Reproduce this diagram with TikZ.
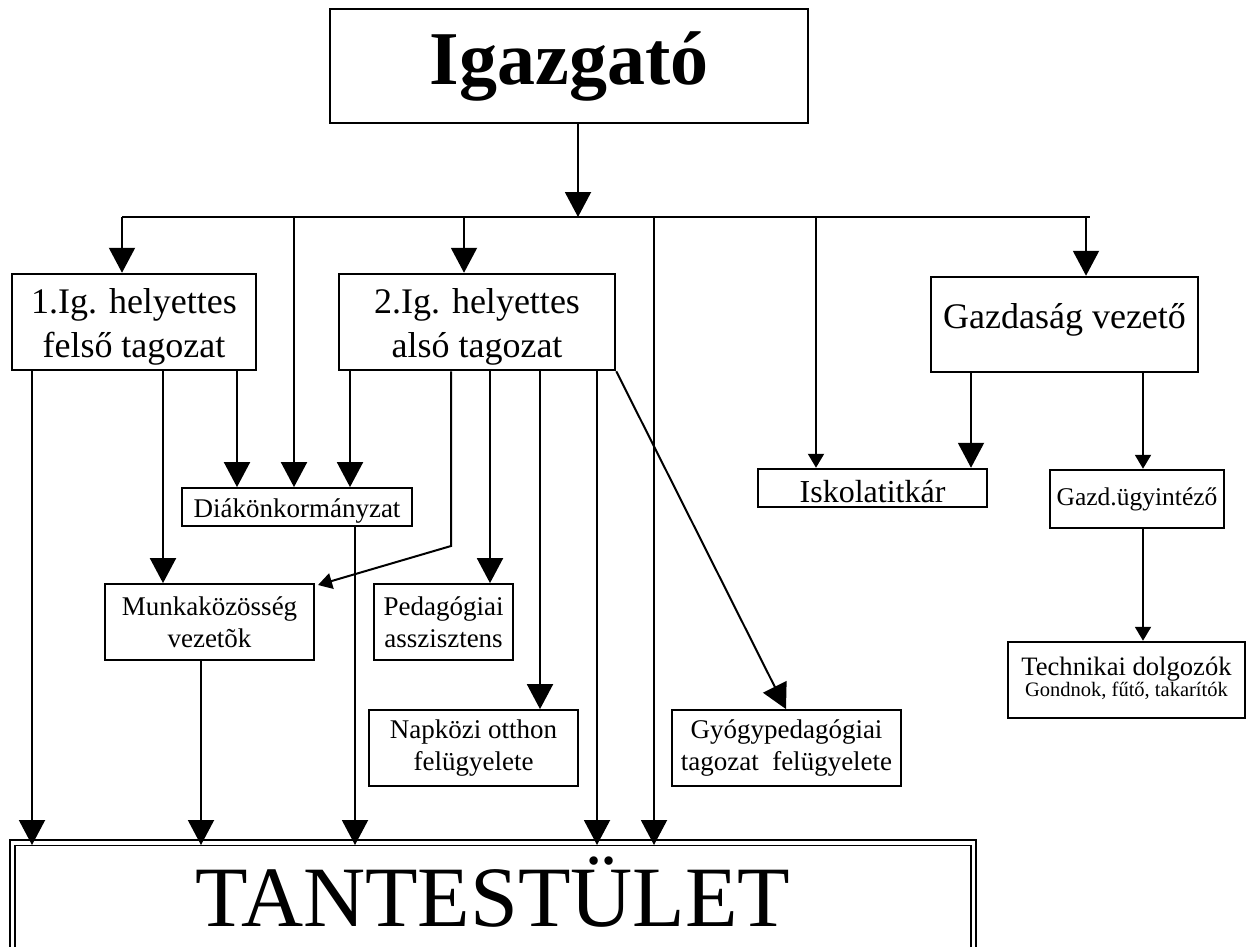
\documentclass[tikz,border=0pt]{standalone}
\usepackage{fontspec}
\setmainfont{Liberation Serif}
\usetikzlibrary{arrows.meta}
\begin{document}
\begin{tikzpicture}[x=1pt,y=-1pt,
  conn/.style={line width=2pt},
  big/.style={conn,-{Triangle[length=25pt,width=26pt]}},
  small/.style={conn,-{Triangle[length=14pt,width=16pt]}},
  box/.style={draw,line width=2.5pt,inner sep=0pt,align=center},
  sbox/.style={draw,line width=1.8pt,inner sep=0pt,align=center},
  f36/.style={font=\fontsize{36}{44}\selectfont},
  f27/.style={font=\fontsize{27}{32}\selectfont}]
\clip (0,0) rectangle (1246,946);
\fill[white] (0,0) rectangle (1246,946);

\node[box,minimum width=478pt,minimum height=114pt,font=\fontsize{76}{80}\selectfont\bfseries] (ig) at (569,66) {Igazgató};
\node[box,minimum width=244pt,minimum height=96pt,
  label={[f36,align=center,yshift=-5pt]center:1.Ig. helyettes\\felső tagozat}] (h1) at (134,322) {};
\node[box,minimum width=276pt,minimum height=96pt,
  label={[f36,align=center,yshift=-5pt]center:2.Ig. helyettes\\alsó tagozat}] (h2) at (477,322) {};
\node[box,f36,anchor=base,minimum width=267pt,text height=51pt,text depth=44pt] (gaz) at (1064.5,328) {Gazdaság vezető};
\node[sbox,f27,anchor=base,minimum width=230pt,text height=29pt,text depth=9pt] (diak) at (297,517) {Diákönkormányzat};
\node[sbox,f27,minimum width=209pt,minimum height=76pt] (mkv) at (209.5,622) {Munkaközösség\\vezetõk};
\node[sbox,f27,minimum width=139pt,minimum height=76pt] (ped) at (443.5,622) {Pedagógiai\\asszisztens};
\node[sbox,f27,minimum width=209pt,minimum height=76pt] (nap) at (473.5,748) {Napközi otthon\\felügyelete};
\node[sbox,f27,minimum width=229pt,minimum height=76pt] (gyo) at (786.5,748) {Gyógypedagógiai\\tagozat\ \ felügyelete};
\node[box,anchor=base,font=\fontsize{32}{36}\selectfont,minimum width=229pt,text height=33pt,text depth=5pt] (isk) at (872.5,502) {Iskolatitkár};
\node[box,anchor=base,font=\fontsize{25.5}{28}\selectfont,minimum width=174pt,text height=35pt,text depth=23pt] (gue) at (1137,505) {Gazd.ügyintéző};
\node[box,minimum width=237pt,minimum height=76pt,
  label={[align=center,yshift=2pt]center:{\fontsize{26.6}{30}\selectfont Technikai dolgozók}\\{\fontsize{20.5}{24}\selectfont Gondnok, fűtő, takarítók}}] (tech) at (1126.5,680) {};
\node[draw,line width=1.6pt,double=white,double distance=3.6pt,inner sep=0pt,anchor=north,minimum width=961pt,minimum height=140pt] (tant) at (493,842) {};
\node[anchor=base,inner sep=0pt,font=\fontsize{86}{90}\selectfont] (tanttext) at (493,926) {TANTESTÜLET};

% bus
\coordinate (busL) at (122,217);
\coordinate (busR) at (1090,217);
\draw[conn] (busL) -- (busR);
\draw[big] (578,0 |- ig.south) -- (578,217);
\draw[big] (busL) -- (122,0 |- h1.north);
\draw[big] (294,217) -- (294,0 |- diak.north);
\draw[big] (464,217) -- (464,0 |- h2.north);
\draw[big] (654,217) -- (654,845);
\draw[small] (816,217) -- (816,0 |- isk.north);
\draw[big] (1086,217) -- (1086,0 |- gaz.north);

% from 1. helyettes
\draw[big] (32,0 |- h1.south) -- (32,845);
\draw[big] (163,0 |- h1.south) -- (163,0 |- mkv.north);
\draw[big] (237,0 |- h1.south) -- (237,0 |- diak.north);

% from 2. helyettes
\draw[big] (350,0 |- h2.south) -- (350,0 |- diak.north);
\draw[small] (451,0 |- h2.south) -- (451,546) -- (318,585);
\draw[big] (490,0 |- h2.south) -- (490,0 |- ped.north);
\draw[big] (540,0 |- h2.south) -- (540,0 |- nap.north);
\draw[big] (597,0 |- h2.south) -- (597,845);
\draw[big] (h2.south east) -- (786,0 |- gyo.north);

% to tantestulet
\draw[big] (355,0 |- diak.south) -- (355,845);
\draw[big] (201,0 |- mkv.south) -- (201,845);

% gazdasag
\draw[big] (971,0 |- gaz.south) -- (971,0 |- isk.north);
\draw[small] (1143,0 |- gaz.south) -- (1143,0 |- gue.north);
\draw[small] (1143,0 |- gue.south) -- (1143,0 |- tech.north);
\end{tikzpicture}
\end{document}
